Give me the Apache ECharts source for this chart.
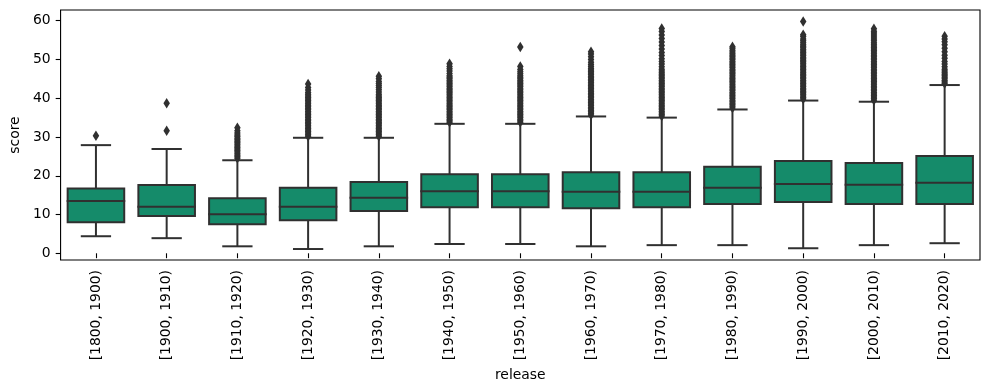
<!DOCTYPE html>
<html>
<head>
<meta charset="utf-8">
<script src="https://cdn.jsdelivr.net/npm/echarts@6/dist/echarts.min.js"></script>
<style>html,body{margin:0;padding:0;background:#fff;}#chart{width:989px;height:390px;}</style>
</head>
<body>
<div id="chart"></div>
<script>
const categories = ['[1800, 1900)','[1900, 1910)','[1910, 1920)','[1920, 1930)','[1930, 1940)','[1940, 1950)','[1950, 1960)','[1960, 1970)','[1970, 1980)','[1980, 1990)','[1990, 2000)','[2000, 2010)','[2010, 2020)'];
const whiskerLow  = [4.4, 3.9, 1.8, 1.1, 1.8, 2.4, 2.4, 1.8, 2.1, 2.1, 1.3, 2.1, 2.6];
const quartile1   = [8.0, 9.6, 7.5, 8.5, 10.9, 11.9, 11.9, 11.6, 11.9, 12.7, 13.2, 12.7, 12.7];
const medians     = [13.5, 12.0, 10.1, 12.0, 14.3, 16.0, 16.0, 15.9, 15.9, 16.9, 17.9, 17.7, 18.2];
const quartile3   = [16.7, 17.6, 14.2, 16.9, 18.4, 20.4, 20.4, 20.9, 20.9, 22.3, 23.8, 23.3, 25.1];
const whiskerHigh = [27.9, 26.9, 24.0, 29.8, 29.8, 33.4, 33.4, 35.3, 35.0, 37.1, 39.4, 39.1, 43.4];

const out1800 = [30.3];
const out1900 = [31.6, 38.7];
const out1910 = [24.5, 24.9, 25.3, 25.7, 26.1, 26.5, 26.9, 27.3, 27.7, 28.1, 28.5, 28.9, 29.3, 29.7, 30.1, 30.5, 31.0, 31.6, 32.4];
const out1920 = [30.2, 30.6, 31.0, 31.4, 31.8, 32.2, 32.6, 33.0, 33.4, 33.8, 34.2, 34.6, 35.0, 35.4, 35.8, 36.2, 36.6, 37.0, 37.4, 37.8, 38.2, 38.6, 39.0, 39.4, 39.8, 40.2, 40.6, 41.0, 41.5, 42.1, 42.8, 43.7];
const out1930 = [30.2, 30.6, 31.0, 31.4, 31.8, 32.2, 32.6, 33.0, 33.4, 33.8, 34.2, 34.6, 35.0, 35.4, 35.8, 36.2, 36.6, 37.0, 37.4, 37.8, 38.2, 38.6, 39.0, 39.4, 39.8, 40.2, 40.6, 41.0, 41.6, 42.2, 42.8, 43.3, 43.8, 44.3, 45.0, 45.7];
const out1940 = [33.8, 34.2, 34.6, 35.0, 35.4, 35.8, 36.2, 36.6, 37.0, 37.4, 37.8, 38.2, 38.6, 39.0, 39.4, 39.8, 40.2, 40.6, 41.0, 41.4, 41.8, 42.2, 42.6, 43.0, 43.4, 43.8, 44.2, 44.6, 45.0, 45.4, 45.8, 46.4, 47.0, 47.6, 48.2, 48.9];
const out1950 = [33.8, 34.2, 34.6, 35.0, 35.4, 35.8, 36.2, 36.6, 37.0, 37.4, 37.8, 38.2, 38.6, 39.0, 39.4, 39.8, 40.2, 40.6, 41.0, 41.4, 41.8, 42.2, 42.6, 43.0, 43.4, 43.8, 44.2, 44.6, 45.0, 45.4, 45.8, 46.3, 46.8, 47.4, 48.2, 53.2];
const out1960 = [35.7, 36.1, 36.5, 36.9, 37.3, 37.7, 38.1, 38.5, 38.9, 39.3, 39.7, 40.1, 40.5, 40.9, 41.3, 41.7, 42.1, 42.5, 42.9, 43.3, 43.7, 44.1, 44.5, 44.9, 45.3, 45.7, 46.1, 46.5, 46.9, 47.3, 47.7, 48.2, 48.7, 49.3, 50.0, 50.7, 51.4, 52.0];
const out1970 = [35.4, 35.8, 36.2, 36.6, 37.0, 37.4, 37.8, 38.2, 38.6, 39.0, 39.4, 39.8, 40.2, 40.6, 41.0, 41.4, 41.8, 42.2, 42.6, 43.0, 43.4, 43.8, 44.2, 44.6, 45.0, 45.4, 45.8, 46.2, 46.6, 47.0, 47.5, 48.1, 48.8, 49.5, 50.2, 51.0, 51.8, 52.7, 53.6, 54.5, 55.4, 56.3, 57.2, 58.0];
const out1980 = [37.5, 37.9, 38.3, 38.7, 39.1, 39.5, 39.9, 40.3, 40.7, 41.1, 41.5, 41.9, 42.3, 42.7, 43.1, 43.5, 43.9, 44.3, 44.7, 45.1, 45.5, 45.9, 46.3, 46.7, 47.1, 47.5, 47.9, 48.3, 48.7, 49.1, 49.5, 49.9, 50.3, 50.7, 51.1, 51.5, 51.9, 52.4, 52.9, 53.3];
const out1990 = [39.8, 40.2, 40.6, 41.0, 41.4, 41.8, 42.2, 42.6, 43.0, 43.4, 43.8, 44.2, 44.6, 45.0, 45.4, 45.8, 46.2, 46.6, 47.0, 47.4, 47.8, 48.2, 48.6, 49.0, 49.4, 49.8, 50.2, 50.6, 51.0, 51.4, 51.8, 52.2, 52.6, 53.0, 53.4, 53.8, 54.3, 54.8, 55.3, 55.9, 56.4, 59.8];
const out2000 = [39.5, 39.9, 40.3, 40.7, 41.1, 41.5, 41.9, 42.3, 42.7, 43.1, 43.5, 43.9, 44.3, 44.7, 45.1, 45.5, 45.9, 46.3, 46.7, 47.1, 47.5, 47.9, 48.3, 48.7, 49.1, 49.5, 49.9, 50.3, 50.7, 51.1, 51.5, 51.9, 52.3, 52.7, 53.1, 53.5, 53.9, 54.3, 54.8, 55.3, 55.8, 56.3, 56.8, 57.3, 57.9];
const out2010 = [43.8, 44.2, 44.6, 45.0, 45.4, 45.8, 46.2, 46.6, 47.0, 47.5, 48.1, 48.8, 49.5, 50.3, 51.1, 52.0, 52.9, 53.8, 54.6, 55.3, 56.0];
const outliers = [out1800, out1900, out1910, out1920, out1930, out1940, out1950, out1960, out1970, out1980, out1990, out2000, out2010];

const yTicks = [0, 10, 20, 30, 40, 50, 60];
const yMin = -1.73, yMax = 62.76;

const boxFill = '#158b6a';
const lineGray = '#303030';
const fontFamily = 'DejaVu Sans';

const boxData = categories.map((c, i) => [i, whiskerLow[i], quartile1[i], medians[i], quartile3[i], whiskerHigh[i]]);
const outlierData = [];
outliers.forEach((arr, i) => arr.forEach(v => outlierData.push([i, v])));

function renderBox(params, api) {
  const idx = api.value(0);
  const lo = api.coord([idx, api.value(1)]);
  const q1 = api.coord([idx, api.value(2)]);
  const md = api.coord([idx, api.value(3)]);
  const q3 = api.coord([idx, api.value(4)]);
  const hi = api.coord([idx, api.value(5)]);
  const band = api.size([1, 0])[0];
  const bw = band * 0.8;
  const cw = band * 0.4;
  const cx = lo[0];
  const ls = { stroke: lineGray, lineWidth: 2, lineCap: 'square' };
  return {
    type: 'group',
    children: [
      { type: 'line', shape: { x1: cx, y1: q1[1], x2: cx, y2: lo[1] }, style: Object.assign({}, ls, {lineCap:'butt'}) },
      { type: 'line', shape: { x1: cx, y1: q3[1], x2: cx, y2: hi[1] }, style: Object.assign({}, ls, {lineCap:'butt'}) },
      { type: 'line', shape: { x1: cx - cw / 2, y1: lo[1], x2: cx + cw / 2, y2: lo[1] }, style: ls },
      { type: 'line', shape: { x1: cx - cw / 2, y1: hi[1], x2: cx + cw / 2, y2: hi[1] }, style: ls },
      { type: 'rect', shape: { x: cx - bw / 2, y: q3[1], width: bw, height: q1[1] - q3[1] }, style: { fill: boxFill, stroke: lineGray, lineWidth: 2 } },
      { type: 'line', shape: { x1: cx - bw / 2, y1: md[1], x2: cx + bw / 2, y2: md[1] }, style: ls }
    ]
  };
}

const chart = echarts.init(document.getElementById('chart'), null, { renderer: 'canvas' });
chart.setOption({
  animation: false,
  backgroundColor: '#fff',
  textStyle: { fontFamily: fontFamily },
  grid: { left: 57, right: 9, top: 10, bottom: 130, show: true, borderColor: '#000', borderWidth: 1.1, backgroundColor: 'transparent' },
  xAxis: {
    type: 'category',
    data: categories,
    name: 'release',
    nameLocation: 'middle',
    nameGap: 104,
    nameTextStyle: { color: '#000', fontSize: 13.9, fontFamily: fontFamily },
    axisLine: { show: false },
    axisTick: { show: true, alignWithLabel: true, length: 4.9, lineStyle: { color: '#000', width: 1.1 } },
    axisLabel: { rotate: 90, margin: 10, color: '#000', fontSize: 13.9, fontFamily: fontFamily, interval: 0 },
    splitLine: { show: false }
  },
  yAxis: {
    type: 'value',
    min: yMin,
    max: yMax,
    name: 'score',
    nameLocation: 'middle',
    nameRotate: 90,
    nameGap: 34,
    nameTextStyle: { color: '#000', fontSize: 13.9, fontFamily: fontFamily },
    axisLine: { show: false },
    axisTick: { show: true, length: 4.9, customValues: yTicks, lineStyle: { color: '#000', width: 1.1 } },
    axisLabel: { margin: 10, color: '#000', fontSize: 13.9, fontFamily: fontFamily, customValues: yTicks },
    splitLine: { show: false }
  },
  series: [
    {
      type: 'custom',
      renderItem: renderBox,
      data: boxData,
      encode: { x: 0, y: [1, 2, 3, 4, 5] },
      z: 2
    },
    {
      type: 'scatter',
      data: outlierData,
      symbol: 'diamond',
      symbolSize: [6.5, 10.5],
      itemStyle: { color: lineGray, opacity: 1 },
      z: 3
    }
  ]
});
</script>
</body>
</html>
